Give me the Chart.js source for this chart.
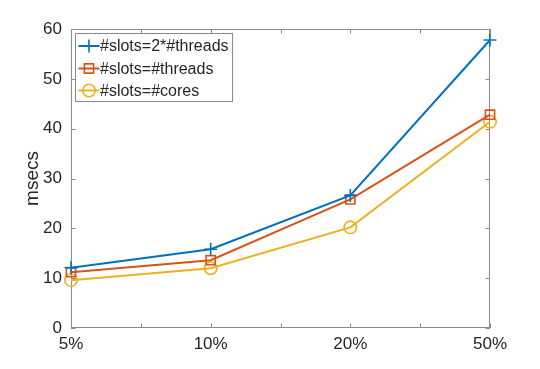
<!DOCTYPE html>
<html>
<head>
<meta charset="utf-8">
<script src="https://cdn.jsdelivr.net/npm/chart.js@4/dist/chart.umd.min.js"></script>
<style>
  html, body { margin: 0; padding: 0; background: #fff; }
  #wrap { width: 540px; height: 369px; }
</style>
</head>
<body>
<div id="wrap"><canvas id="chart" width="540" height="369"></canvas></div>
<script>
// data
const xLabels = ['5%', '10%', '20%', '50%'];
const yTicks = [0, 10, 20, 30, 40, 50, 60];
const seriesNames = ['#slots=2*#threads', '#slots=#threads', '#slots=#cores'];
const slots2xThreads = [12.1, 15.8, 26.6, 57.8];
const slotsThreads = [11.2, 13.6, 25.8, 42.8];
const slotsCores = [9.6, 12.0, 20.2, 41.4];

const colors = ['#0072BD', '#D95319', '#EDB120'];
const markers = ['cross', 'rect', 'circle'];
const radii = [6.5, 6.5, 6.2];
const axisColor = '#8a8a8a';
const textColor = '#262626';
const fontFamily = '"Liberation Sans", Arial, sans-serif';

function toPoints(vals) {
    return vals.map((v, i) => ({ x: i + 1, y: v }));
}

const allSeries = [slots2xThreads, slotsThreads, slotsCores];
const datasets = allSeries.map((vals, i) => ({
    label: seriesNames[i],
    data: toPoints(vals),
    borderColor: colors[i],
    borderWidth: 2,
    pointStyle: markers[i],
    pointRadius: radii[i],
    pointBorderWidth: 1.6,
    pointBackgroundColor: 'rgba(0,0,0,0)',
    pointBorderColor: colors[i],
    clip: false,
    tension: 0
}));

// box around the plot, with small ticks pointing inwards (matlab style)
const framePlugin = {
    id: 'frame',
    beforeDatasetsDraw(chart) {
        const ctx = chart.ctx;
        const a = chart.chartArea;
        const xs = chart.scales.x, ys = chart.scales.y;
        const len = 4.5;
        ctx.save();
        ctx.strokeStyle = axisColor;
        ctx.lineWidth = 1;
        ctx.strokeRect(a.left + 0.5, a.top + 0.5, a.right - a.left - 1, a.bottom - a.top - 1);
        ctx.beginPath();
        xs.ticks.forEach(t => {
            const px = Math.round(xs.getPixelForValue(t.value)) + 0.5;
            ctx.moveTo(px, a.bottom);
            ctx.lineTo(px, a.bottom - len);
            ctx.moveTo(px, a.top);
            ctx.lineTo(px, a.top + len);
        });
        ys.ticks.forEach(t => {
            const py = Math.round(ys.getPixelForValue(t.value)) + 0.5;
            ctx.moveTo(a.left, py);
            ctx.lineTo(a.left + len, py);
            ctx.moveTo(a.right, py);
            ctx.lineTo(a.right - len, py);
        });
        ctx.stroke();
        ctx.restore();
    }
};

// legend box in the upper left corner
const legendPlugin = {
    id: 'boxLegend',
    afterDraw(chart) {
        const ctx = chart.ctx;
        const a = chart.chartArea;
        const bx = a.left + 4.5, by = a.top + 4.5, bw = 157, bh = 68;
        ctx.save();
        ctx.fillStyle = '#fff';
        ctx.fillRect(bx, by, bw, bh);
        ctx.strokeStyle = axisColor;
        ctx.lineWidth = 1;
        ctx.strokeRect(bx, by, bw, bh);
        ctx.font = '16px ' + fontFamily;
        ctx.textBaseline = 'middle';
        const rows = [46, 68.5, 90.5];
        datasets.forEach((ds, i) => {
            const y = rows[i];
            ctx.strokeStyle = ds.borderColor;
            ctx.lineWidth = ds.borderWidth;
            ctx.beginPath();
            ctx.moveTo(bx + 3, y);
            ctx.lineTo(bx + 24, y);
            ctx.stroke();
            ctx.lineWidth = ds.pointBorderWidth;
            ctx.fillStyle = 'rgba(0,0,0,0)';
            Chart.helpers.drawPoint(ctx, {
                pointStyle: ds.pointStyle,
                radius: ds.pointRadius,
                rotation: 0,
                borderWidth: ds.pointBorderWidth
            }, bx + 13.5, y);
            ctx.fillStyle = textColor;
            ctx.fillText(ds.label, bx + 24.5, y + 1);
        });
        ctx.restore();
    }
};

new Chart(document.getElementById('chart'), {
    type: 'line',
    data: { datasets: datasets },
    options: {
        responsive: false,
        animation: false,
        layout: { padding: { left: 0, top: 29, right: 50, bottom: 0 } },
        plugins: {
            legend: { display: false },
            tooltip: { enabled: false }
        },
        scales: {
            x: {
                type: 'linear',
                min: 1,
                max: 4,
                afterFit: s => { s.height = 41; },
                grid: { display: false, drawTicks: false },
                border: { display: false },
                ticks: {
                    stepSize: 0.5,
                    autoSkip: false,
                    maxRotation: 0,
                    padding: 6,
                    color: textColor,
                    font: { family: fontFamily, size: 17 },
                    callback: v => Number.isInteger(v) ? xLabels[v - 1] : ''
                }
            },
            y: {
                min: yTicks[0],
                max: yTicks[yTicks.length - 1],
                afterFit: s => { s.width = 71; },
                afterBuildTicks: s => { s.ticks = yTicks.map(v => ({ value: v })); },
                grid: { display: false, drawTicks: false },
                border: { display: false },
                title: {
                    display: true,
                    text: 'msecs',
                    color: textColor,
                    font: { family: fontFamily, size: 19 },
                    padding: { top: 21, bottom: 0 }
                },
                ticks: {
                    padding: 9,
                    color: textColor,
                    font: { family: fontFamily, size: 17 }
                }
            }
        }
    },
    plugins: [framePlugin, legendPlugin]
});
</script>
</body>
</html>
